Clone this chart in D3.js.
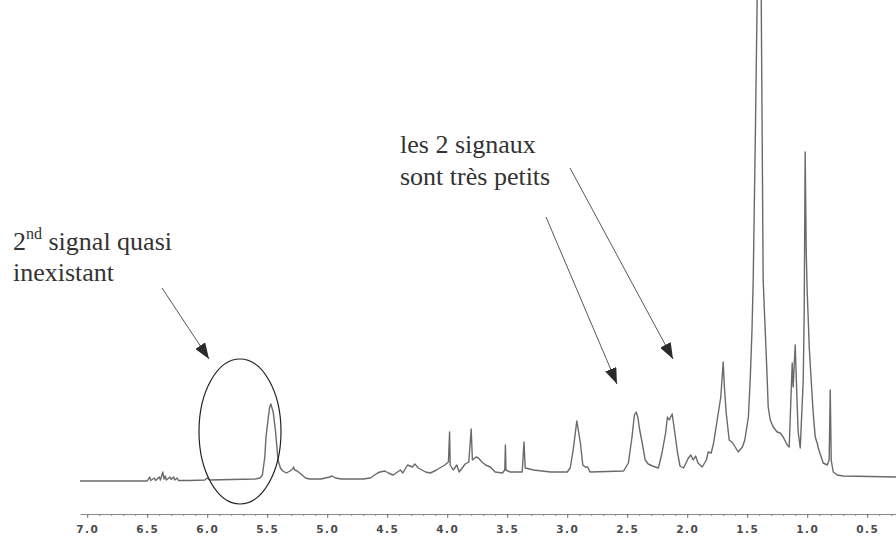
<!DOCTYPE html>
<html>
<head>
<meta charset="utf-8">
<script src="https://cdn.jsdelivr.net/npm/d3@7"></script>
<style>
  body { margin: 0; background: #fff; }
  svg { display: block; }
</style>
</head>
<body>
<svg></svg>
<script>
// chemical shift (ppm) and signal intensity
let shifts = [
  7.06, 6.55, 6.50, 6.48, 6.47, 6.44, 6.43, 6.40, 6.39, 6.37, 6.36, 6.35, 6.34, 6.31, 6.30, 6.28, 6.27, 6.25, 6.24, 6.15,
  6.02, 6.00, 5.98, 5.80, 5.60, 5.56, 5.54, 5.52, 5.51, 5.50, 5.48, 5.47, 5.46, 5.45, 5.43, 5.41, 5.39, 5.37, 5.34, 5.31,
  5.29, 5.28, 5.27, 5.25, 5.22, 5.18, 5.15, 5.05, 4.98, 4.96, 4.93, 4.88, 4.70, 4.64, 4.58, 4.56, 4.52, 4.49, 4.45, 4.39,
  4.37, 4.33, 4.29, 4.27, 4.24, 4.18, 4.14, 4.09, 4.02, 3.99, 3.98, 3.975, 3.95, 3.92, 3.90, 3.85, 3.82, 3.80, 3.79, 3.76,
  3.74, 3.71, 3.68, 3.64, 3.60, 3.54, 3.52, 3.515, 3.51, 3.475, 3.375, 3.36, 3.35, 3.28, 3.14, 3.00, 2.975, 2.95, 2.92, 2.89,
  2.87, 2.85, 2.83, 2.81, 2.53, 2.49, 2.46, 2.44, 2.425, 2.41, 2.40, 2.375, 2.35, 2.325, 2.29, 2.24, 2.21, 2.18, 2.165, 2.15,
  2.125, 2.11, 2.08, 2.06, 2.03, 1.99, 1.97, 1.95, 1.93, 1.91, 1.875, 1.84, 1.825, 1.80, 1.78, 1.75, 1.72, 1.70, 1.69, 1.675,
  1.65, 1.62, 1.60, 1.575, 1.54, 1.52, 1.49, 1.475, 1.46, 1.45, 1.433, 1.417, 1.40, 1.383, 1.367, 1.333, 1.325, 1.308, 1.283, 1.25,
  1.225, 1.20, 1.167, 1.15, 1.125, 1.117, 1.10, 1.083, 1.075, 1.058, 1.033, 1.025, 1.017, 1.008, 1.0, 0.992, 0.983, 0.967, 0.95, 0.933,
  0.917, 0.908, 0.883, 0.867, 0.833, 0.817, 0.808, 0.80, 0.783, 0.75, 0.70, 0.26
]
let intensities = [
  1, 1, 1, 5, 1.5, 4, 1.5, 5, 2, 10, 3, 6, 2, 5, 2.5, 5, 2, 4, 1.5, 1.5,
  2, 4, 2, 2.5, 3, 4, 7, 25, 45, 55, 75, 78, 74, 70, 50, 22, 14, 11, 9, 11,
  13, 15, 12, 11, 8, 4, 3, 3, 5, 6, 4, 3, 3, 4, 9, 10, 11, 9, 7, 12,
  9, 17, 15, 18, 14, 10, 9, 12, 17, 20, 50, 17, 12, 17, 10, 18, 20, 53, 22, 25,
  24, 20, 17, 15, 10, 9, 12, 37, 12, 10, 10, 40, 14, 12, 10, 10, 14, 32, 61, 39,
  17, 15, 15, 10, 11, 19, 45, 67, 70, 64, 55, 39, 22, 18, 16, 14, 29, 49, 65, 62,
  68, 55, 29, 16, 14, 24, 27, 22, 26, 19, 15, 22, 30, 29, 39, 62, 85, 120, 95, 69,
  42, 39, 35, 30, 35, 42, 65, 102, 152, 202, 339, 482, 560, 482, 202, 102, 75, 62, 55, 50,
  49, 45, 37, 35, 119, 95, 137, 75, 50, 34, 102, 169, 330, 230, 190, 165, 135, 102, 69, 45,
  39, 34, 25, 19, 17, 22, 92, 22, 10, 7, 6, 5
]
let tickValues = [7.0, 6.5, 6.0, 5.5, 5.0, 4.5, 4.0, 3.5, 3.0, 2.5, 2.0, 1.5, 1.0, 0.5]

let svgWidth = 896,
    svgHeight = 541

let svg = d3.select('svg')
    .attr('width', svgWidth)
    .attr('height', svgHeight)

// ppm axis runs right to left
let x = d3.scaleLinear().domain([7.06, 0.26]).range([80, 896])
let y = d3.scaleLinear().domain([0, 480]).range([482, 2])

let points = shifts.map((s, i) => [s, intensities[i]])

let line = d3.line()
    .x(d => x(d[0]))
    .y(d => y(d[1]))

svg.append('path')
    .datum(points)
    .attr('d', line)
    .attr('fill', 'none')
    .attr('stroke', '#6a6a6a')
    .attr('stroke-width', 1.4)
    .attr('stroke-linejoin', 'round')

// AXIS: minor ticks every 0.1, labelled ones every 0.5
let axisY = 514
let minor = d3.range(70, 2, -1).map(v => v / 10)

svg.append('g')
    .attr('transform', `translate(0, ${axisY})`)
    .call(d3.axisBottom(x).tickValues(minor).tickSize(2).tickFormat(''))
    .call(g => g.select('.domain').remove())
    .selectAll('line').attr('stroke', '#888')

let axis = svg.append('g')
    .attr('transform', `translate(0, ${axisY})`)
    .call(d3.axisBottom(x)
        .tickValues(tickValues)
        .tickFormat(d3.format('.1f'))
        .tickSize(4)
        .tickSizeOuter(0)
        .tickPadding(8))

axis.select('.domain').attr('stroke', '#888')
axis.selectAll('line').attr('stroke', '#777')
axis.selectAll('text')
    .attr('fill', '#4a4a4a')
    .attr('font-family', 'DejaVu Sans')
    .attr('font-weight', 'bold')
    .attr('font-size', 10.5)
    .attr('letter-spacing', 1.5)

// ANNOTATIONS
let ink = '#2b2b2b'

svg.append('defs').append('marker')
    .attr('id', 'head')
    .attr('markerUnits', 'userSpaceOnUse')
    .attr('viewBox', '0 0 16 12')
    .attr('refX', 16)
    .attr('refY', 6)
    .attr('markerWidth', 16)
    .attr('markerHeight', 12)
    .attr('orient', 'auto')
    .append('path')
    .attr('d', 'M0,0 L16,6 L0,12 Z')
    .attr('fill', ink)

let arrows = [
    [[162, 288], [209, 359]],
    [[546, 217], [617, 384]],
    [[570, 168], [673, 359]]
]

svg.selectAll('.arrow')
    .data(arrows)
    .enter()
    .append('line')
    .attr('class', 'arrow')
    .attr('x1', d => d[0][0])
    .attr('y1', d => d[0][1])
    .attr('x2', d => d[1][0])
    .attr('y2', d => d[1][1])
    .attr('stroke', '#444')
    .attr('stroke-width', 0.9)
    .attr('marker-end', 'url(#head)')

svg.append('ellipse')
    .attr('cx', 240)
    .attr('cy', 431.5)
    .attr('rx', 41)
    .attr('ry', 72.5)
    .attr('fill', 'none')
    .attr('stroke', '#222')
    .attr('stroke-width', 1.2)

let notes = svg.append('g')
    .attr('font-family', 'Liberation Serif')
    .attr('font-size', 26)
    .attr('fill', '#333')

let first = notes.append('text').attr('x', 13).attr('y', 250)
first.append('tspan').text('2')
first.append('tspan').attr('font-size', 16).attr('dy', -11).text('nd')
first.append('tspan').attr('dy', 11).text(' signal quasi')
notes.append('text').attr('x', 13).attr('y', 281).text('inexistant')

notes.append('text').attr('x', 400).attr('y', 153).text('les 2 signaux')
notes.append('text').attr('x', 400).attr('y', 185).text('sont très petits')
</script>
</body>
</html>
